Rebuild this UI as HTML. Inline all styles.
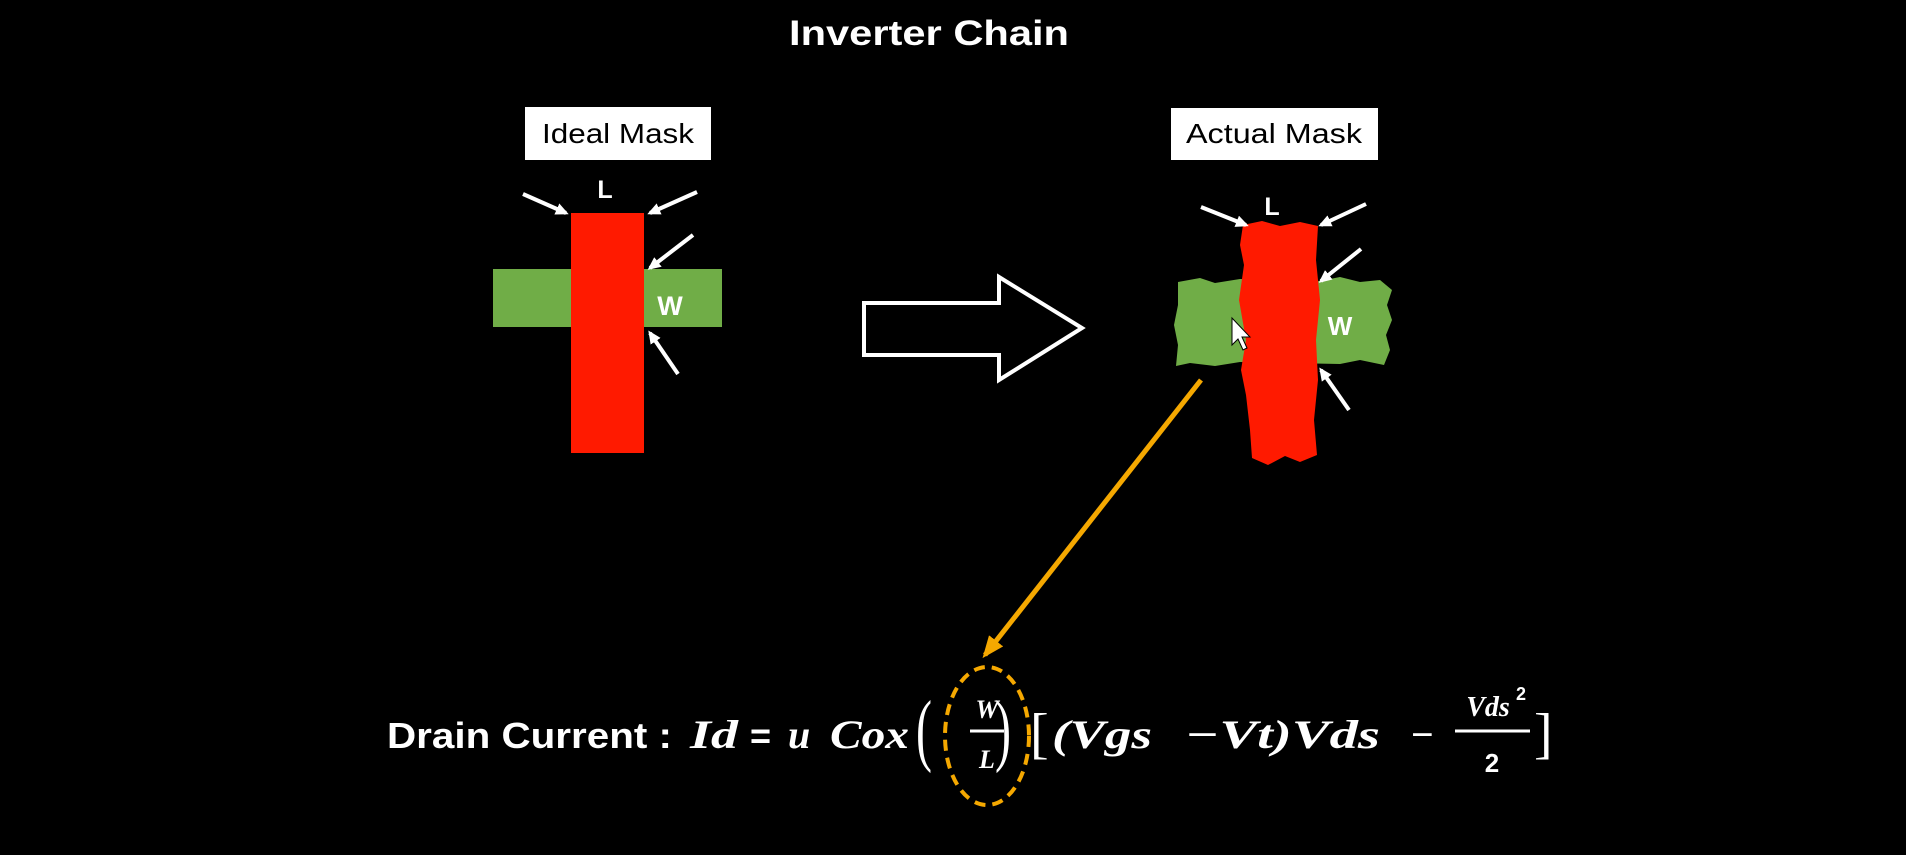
<!DOCTYPE html>
<html><head><meta charset="utf-8"><style>
html,body{margin:0;padding:0;background:#000;}
svg{display:block}
.s{font-family:"Liberation Sans",sans-serif;font-weight:bold;fill:#fff}
.m{font-family:"Liberation Serif",serif;font-weight:bold;font-style:italic;fill:#fff}
</style></head><body>
<svg width="1906" height="855" viewBox="0 0 1906 855" xmlns="http://www.w3.org/2000/svg">
<defs>
<marker id="wa" markerWidth="13" markerHeight="12" refX="10" refY="6" orient="auto" markerUnits="userSpaceOnUse"><path d="M0,0 L13,6 L0,12 z" fill="#fff"/></marker>
<marker id="oa" markerWidth="22" markerHeight="22" refX="18" refY="11" orient="auto" markerUnits="userSpaceOnUse"><path d="M0,2 L22,11 L0,20 z" fill="#f5a800"/></marker>
</defs>
<rect width="1906" height="855" fill="#000"/>
<text x="929" y="45" text-anchor="middle" class="s" font-size="35" textLength="280" lengthAdjust="spacingAndGlyphs">Inverter Chain</text>

<!-- Ideal -->
<rect x="525" y="107" width="186" height="53" fill="#fff"/>
<text x="618" y="143" text-anchor="middle" font-family="Liberation Sans,sans-serif" font-size="28" fill="#000" textLength="152" lengthAdjust="spacingAndGlyphs">Ideal Mask</text>
<rect x="493" y="269" width="229" height="58" fill="#70ad47"/>
<rect x="571" y="213" width="73" height="240" fill="#ff1a00"/>
<text x="670" y="315" text-anchor="middle" class="s" font-size="27">W</text>
<text x="605" y="198" text-anchor="middle" class="s" font-size="25">L</text>
<g stroke="#fff" stroke-width="4" marker-end="url(#wa)">
<line x1="523" y1="194" x2="566" y2="213"/>
<line x1="697" y1="192" x2="650" y2="213"/>
<line x1="693" y1="235" x2="650" y2="268"/>
<line x1="678" y1="374" x2="650" y2="333"/>
</g>

<!-- big arrow -->
<path d="M864,303 L999,303 L999,277 L1082,328 L999,380 L999,355 L864,355 Z" fill="none" stroke="#fff" stroke-width="4"/>

<!-- Actual -->
<rect x="1171" y="108" width="207" height="52" fill="#fff"/>
<text x="1274" y="143" text-anchor="middle" font-family="Liberation Sans,sans-serif" font-size="28" fill="#000" textLength="176" lengthAdjust="spacingAndGlyphs">Actual Mask</text>
<path d="M1178,282 L1200,278 L1215,283 L1240,279 L1320,281 L1340,277 L1360,282 L1380,280 L1392,290 L1387,305 L1392,320 L1386,335 L1390,350 L1384,365 L1360,360 L1340,364 L1240,362 L1215,366 L1190,363 L1176,366 L1178,345 L1174,325 L1178,305 Z" fill="#70ad47"/>
<path d="M1243,225 L1262,221 L1280,226 L1300,222 L1318,226 L1316,260 L1320,300 L1316,340 L1318,380 L1314,420 L1317,455 L1300,462 L1285,456 L1268,465 L1252,458 L1250,430 L1246,395 L1241,370 L1246,340 L1239,300 L1244,265 L1240,245 Z" fill="#ff1a00"/>
<text x="1340" y="335" text-anchor="middle" class="s" font-size="26">W</text>
<text x="1272" y="215" text-anchor="middle" class="s" font-size="25">L</text>
<g stroke="#fff" stroke-width="4" marker-end="url(#wa)">
<line x1="1201" y1="207" x2="1246" y2="225"/>
<line x1="1366" y1="204" x2="1321" y2="225"/>
<line x1="1361" y1="249" x2="1321" y2="281"/>
<line x1="1349" y1="410" x2="1321" y2="370"/>
</g>
<!-- cursor -->
<path d="M1232,318 L1232,345 L1238,339 L1243,350 L1247,348 L1242,337 L1250,337 Z" fill="#fff" stroke="#000" stroke-width="1"/>

<!-- orange connector -->
<line x1="1201" y1="380" x2="985" y2="655" stroke="#f5a800" stroke-width="5" marker-end="url(#oa)"/>
<ellipse cx="987" cy="736" rx="42" ry="69" fill="none" stroke="#f5a800" stroke-width="4" stroke-dasharray="11,7"/>

<!-- equation -->
<text x="387" y="748" class="s" font-size="36" textLength="285" lengthAdjust="spacingAndGlyphs">Drain Current :</text>
<text x="690" y="748" class="m" font-size="40" textLength="48" lengthAdjust="spacingAndGlyphs">Id</text>
<text x="750" y="748" class="s" font-size="36">=</text>
<text x="788" y="748" class="m" font-size="40">u</text>
<text x="830" y="748" class="m" font-size="40" textLength="79" lengthAdjust="spacingAndGlyphs">Cox</text>
<text x="916" y="756" font-family="Liberation Serif,serif" font-size="80" fill="#fff" transform="translate(916,756) scale(0.6,1) translate(-916,-756)">(</text>
<text x="987" y="718" text-anchor="middle" class="m" font-size="26">W</text>
<line x1="970" y1="731" x2="1004" y2="731" stroke="#fff" stroke-width="3"/>
<text x="987" y="768" text-anchor="middle" class="m" font-size="26">L</text>
<text x="995" y="756" font-family="Liberation Serif,serif" font-size="80" fill="#fff" transform="translate(995,756) scale(0.6,1) translate(-995,-756)">)</text>
<text x="1030" y="752" font-family="Liberation Serif,serif" font-size="56" fill="#fff">[</text>
<text x="1052" y="748" class="m" font-size="40" textLength="100" lengthAdjust="spacingAndGlyphs">(Vgs</text>
<text x="1185" y="748" class="m" font-size="40" textLength="195" lengthAdjust="spacingAndGlyphs">−Vt)Vds</text>
<text x="1410" y="748" class="m" font-size="40">−</text>
<text x="1488" y="716" text-anchor="middle" class="m" font-size="28">Vds</text>
<text x="1516" y="700" class="s" font-size="18">2</text>
<line x1="1455" y1="731" x2="1530" y2="731" stroke="#fff" stroke-width="3"/>
<text x="1492" y="772" text-anchor="middle" class="s" font-size="26">2</text>
<text x="1534" y="752" font-family="Liberation Serif,serif" font-size="56" fill="#fff">]</text>
</svg>
</body></html>
